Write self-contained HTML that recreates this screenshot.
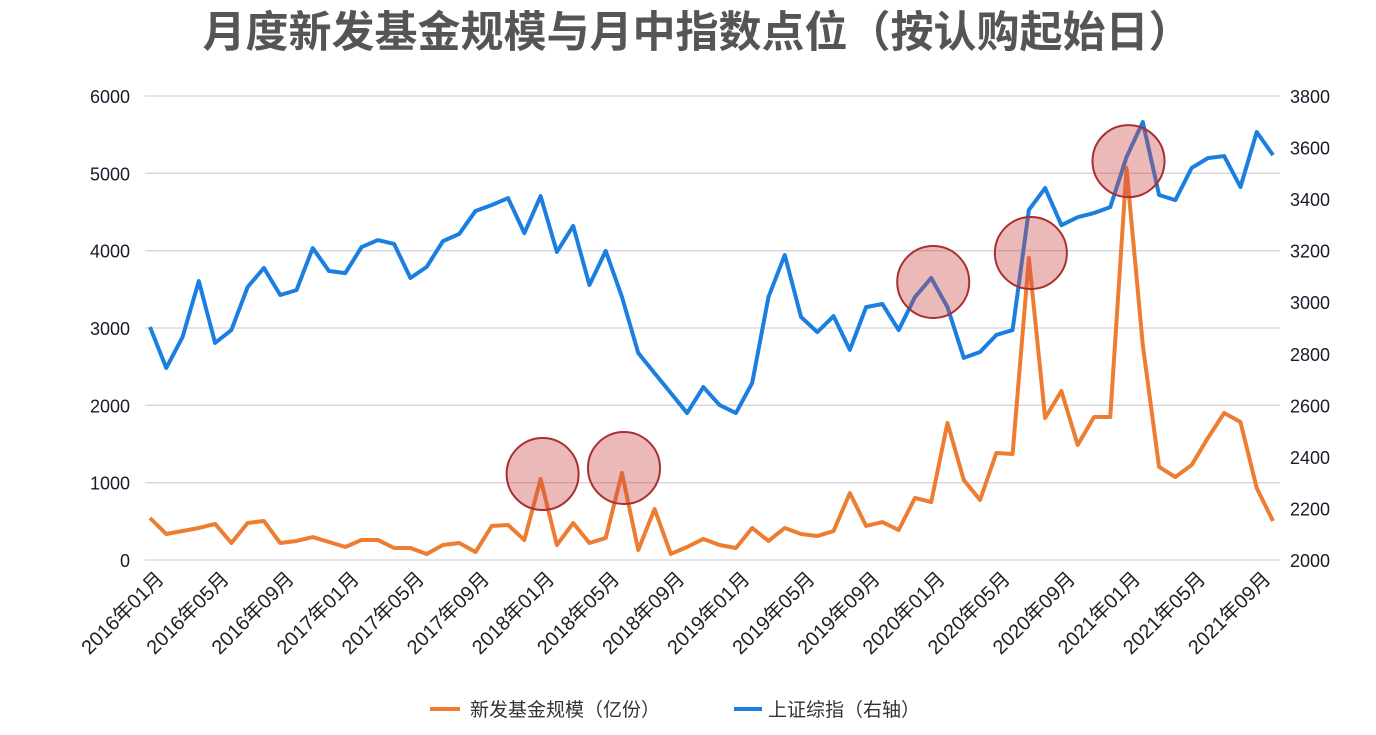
<!DOCTYPE html>
<html><head><meta charset="utf-8">
<style>
html,body{margin:0;padding:0;background:#fff;}
body{width:1376px;height:730px;overflow:hidden;font-family:"Liberation Sans","Noto Sans CJK SC",sans-serif;}
</style></head>
<body>
<svg id="chart" width="1376" height="730" xmlns="http://www.w3.org/2000/svg" font-family="Liberation Sans, Noto Sans CJK SC, sans-serif">
<text x="697" y="47" text-anchor="middle" font-size="43" font-weight="bold" fill="#555">月度新发基金规模与月中指数点位（按认购起始日）</text>
<g id="grid"></g><g id="axes"></g><g id="lines"></g><g id="circles"></g>
<g>
<line x1="430" y1="709" x2="460" y2="709" stroke="#ed7d31" stroke-width="4"/>
<text x="470" y="716" font-size="19" fill="#333">新发基金规模（亿份）</text>
<line x1="734" y1="709" x2="762" y2="709" stroke="#1a7fe0" stroke-width="4"/>
<text x="768" y="716" font-size="19" fill="#333">上证综指（右轴）</text>
</g>
</svg>
<script>
const fundValues=[543,336,375,414,466,220,478,504,220,246,297,233,168,259,259,155,155,78,194,220,103,440,453,259,1047,194,478,220,285,1125,129,660,78,168,272,194,155,414,246,414,336,310,375,866,440,491,388,802,750,1772,1035,776,1384,1371,3905,1836,2185,1487,1849,1849,5069,2780,1203,1073,1228,1578,1901,1785,931,504];
const indexValues=[2904,2745,2865,3082,2842,2892,3059,3133,3028,3047,3210,3121,3113,3214,3241,3226,3094,3137,3237,3265,3354,3377,3404,3268,3412,3195,3296,3067,3199,3020,2803,2725,2648,2570,2671,2601,2570,2687,3020,3183,2943,2884,2946,2815,2981,2993,2892,3020,3094,2981,2784,2807,2873,2892,3358,3443,3299,3330,3346,3369,3563,3699,3416,3396,3521,3559,3567,3447,3660,3571];
const leftTicks=[0,1000,2000,3000,4000,5000,6000];
const rightTicks=[2000,2200,2400,2600,2800,3000,3200,3400,3600,3800];
const highlightIdx=[24,29,48,54,60];
const highlightSeries=['fund','fund','index','fund','index'];
const NS='http://www.w3.org/2000/svg';
function mk(t,a,p){const e=document.createElementNS(NS,t);for(const k in a)e.setAttribute(k,a[k]);p.appendChild(e);return e;}
const x0=150,x1=1273,yTop=96,yBot=560;
const xs=i=>x0+(x1-x0)*i/(fundValues.length-1);
const yL=v=>yBot-(v-0)/(6000-0)*(yBot-yTop);
const yR=v=>yBot-(v-2000)/(3800-2000)*(yBot-yTop);
function label(i){const y=2016+Math.floor(i/12),m=i%12+1;return y+'年'+(m<10?'0':'')+m+'月';}
const grid=document.getElementById('grid'),axes=document.getElementById('axes');
leftTicks.forEach(v=>{
  const l=mk('line',{x1:145,x2:1280,y1:yL(v),y2:yL(v),stroke:'#d4d4dc','stroke-width':1.3},grid);
  
  
  const t=mk('text',{x:130,y:yL(v)+7,'text-anchor':'end','font-size':18,fill:'#1a1a2a'},axes);
  t.textContent=v;
  
  
});
rightTicks.forEach(v=>{
  const t=mk('text',{x:1290,y:yR(v)+7,'font-size':18,fill:'#1a1a2a'},axes);
  t.textContent=v;
  
  
});
for(let i=0;i<fundValues.length;i+=4){
  const x=xs(i)+15,y=580;
  const t=mk('text',{x:x,y:y,'text-anchor':'end','font-size':20,fill:'#222',transform:`rotate(-45 ${x} ${y})`},axes);
  t.textContent=label(i);
  
  
}
const lines=document.getElementById('lines');
const pf=mk('polyline',{points:fundValues.map((v,i)=>xs(i)+','+yL(v)).join(' '),fill:'none',stroke:'#ed7d31','stroke-width':4,'stroke-linejoin':'round'},lines);


const pi=mk('polyline',{points:indexValues.map((v,i)=>xs(i)+','+yR(v)).join(' '),fill:'none',stroke:'#1a7fe0','stroke-width':4,'stroke-linejoin':'round'},lines);


const circles=document.getElementById('circles');
highlightIdx.forEach((i,k)=>{
  const cy=highlightSeries[k]==='fund'?yL(fundValues[i])-5:yR(indexValues[i])+4;
  const c=mk('circle',{cx:xs(i)+2,cy:cy,r:36,fill:'rgba(205,70,70,0.38)',stroke:'#a83030','stroke-width':2},circles);
  
  
});
</script>
</body></html>
